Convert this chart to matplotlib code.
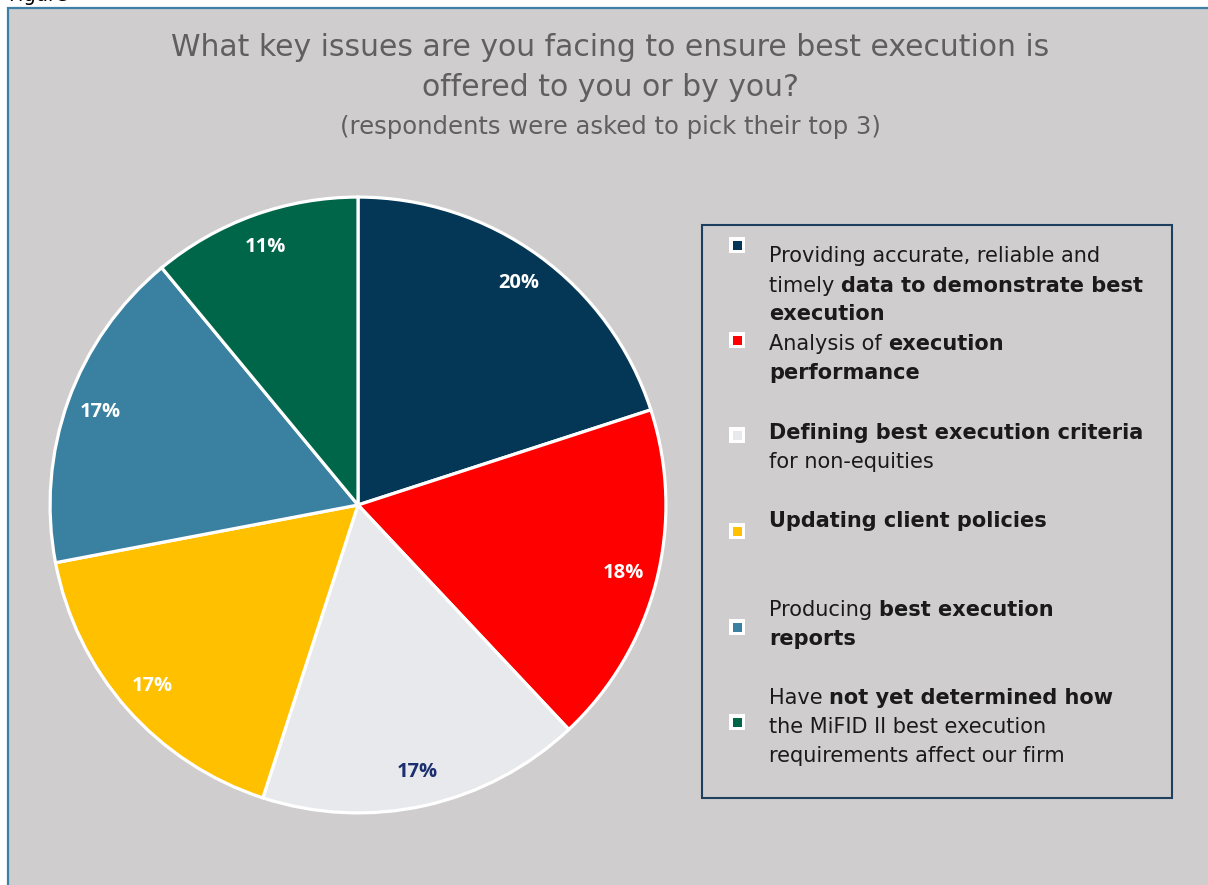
import matplotlib
matplotlib.use('Agg')
import matplotlib.pyplot as plt
from matplotlib.patches import Rectangle

W, H = 1208, 885

# 数据
shares = [20, 18, 17, 17, 17, 11]
slice_colors = ['#043756', '#FE0000', '#E8E9ED', '#FFC000', '#3A80A0', '#00664A']
pct_colors = ['white', 'white', '#1C2F6E', 'white', 'white', 'white']

# 图例文字：每行由 (文字, 是否加粗) 片段组成
legend_items = [
    [[('Providing accurate, reliable and', False)],
     [('timely ', False), ('data to demonstrate best', True)],
     [('execution', True)]],
    [[('Analysis of ', False), ('execution', True)],
     [('performance', True)]],
    [[('Defining best execution criteria', True)],
     [('for non-equities', False)]],
    [[('Updating client policies', True)]],
    [[('Producing ', False), ('best execution', True)],
     [('reports', True)]],
    [[('Have ', False), ('not yet determined how', True)],
     [('the MiFID II best execution', False)],
     [('requirements affect our firm', False)]],
]

title_lines = ['What key issues are you facing to ensure best execution is',
               'offered to you or by you?']
subtitle = '(respondents were asked to pick their top 3)'

BG = '#CFCDCE'
FRAME = '#3C80A8'
TXT = '#1A1A1A'


def fx(x):
    return x / W


def fy(y):
    return 1 - y / H


fig = plt.figure(figsize=(W / 100, H / 100), dpi=100)
fig.patch.set_facecolor('white')

# 页面上方被截掉的图号
fig.text(fx(8), fy(1), 'Figure', fontsize=14, color='black',
         ha='left', va='baseline', zorder=0)

# 灰色底板 + 蓝色边框
fig.add_artist(Rectangle((fx(8), fy(H + 20)), fx(W + 20), (H + 12) / H,
                         transform=fig.transFigure, facecolor=BG,
                         edgecolor=FRAME, linewidth=1.6, zorder=1))

# 标题
fig.text(fx(610), fy(48), title_lines[0], fontsize=21.5, color='#5F5F5F',
         ha='center', va='center', zorder=3)
fig.text(fx(610), fy(87), title_lines[1], fontsize=21.5, color='#5F5F5F',
         ha='center', va='center', zorder=3)
fig.text(fx(610), fy(127), subtitle, fontsize=17.5, color='#5F5F5F',
         ha='center', va='center', zorder=3)

# 饼图
cx, cy, r = 358, 505, 311
ax = fig.add_axes([fx(cx - r), fy(cy + r), 2 * r / W, 2 * r / H])
ax.set_zorder(2)
ax.patch.set_alpha(0)
wedges, _, autotexts = ax.pie(
    shares, colors=slice_colors, startangle=90, counterclock=False,
    autopct=lambda p: f'{p:.0f}%', pctdistance=0.89,
    wedgeprops=dict(edgecolor='white', linewidth=2.3),
    textprops=dict(fontsize=14.5, fontweight='bold', family='Open Sans'))
for t, c in zip(autotexts, pct_colors):
    t.set_color(c)
ax.set_xlim(-1.01, 1.01)
ax.set_ylim(-1.01, 1.01)

# 图例框
fig.add_artist(Rectangle((fx(702), fy(798)), (1172 - 702) / W, (798 - 225) / H,
                         transform=fig.transFigure, facecolor='none',
                         edgecolor='#1F3F5F', linewidth=1.5, zorder=3))

renderer = fig.canvas.get_renderer()
marker_y = [245, 340, 435, 531, 627, 722]
first_base = [262.5, 350, 439, 527, 616, 704]
line_gap = 29
for i, item in enumerate(legend_items):
    my = marker_y[i]
    fig.add_artist(Rectangle((fx(737 - 8), fy(my + 8)), 16 / W, 16 / H,
                             transform=fig.transFigure, facecolor='white',
                             edgecolor='none', zorder=3))
    fig.add_artist(Rectangle((fx(737 - 4.5), fy(my + 4.5)), 9 / W, 9 / H,
                             transform=fig.transFigure, facecolor=slice_colors[i],
                             edgecolor='none', zorder=4))
    for j, line in enumerate(item):
        x = 769
        base = first_base[i] + j * line_gap
        for seg, bold in line:
            t = fig.text(fx(x), fy(base), seg, fontsize=15, color=TXT,
                         fontweight='bold' if bold else 'normal',
                         ha='left', va='baseline', zorder=4)
            bb = t.get_window_extent(renderer)
            x = bb.x1

fig.savefig('out.png', dpi=100, facecolor=fig.get_facecolor())
